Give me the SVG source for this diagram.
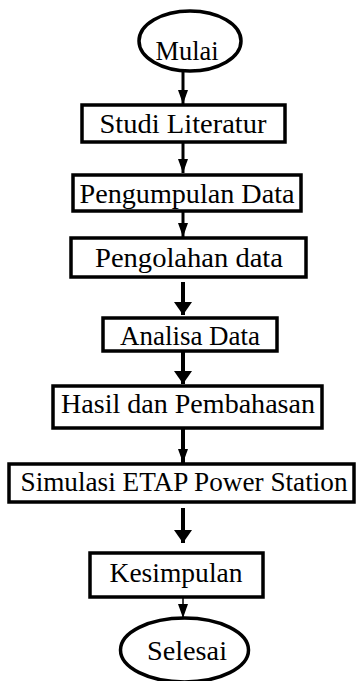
<svg xmlns="http://www.w3.org/2000/svg" width="357" height="681" viewBox="0 0 357 681">
<style>
.box{fill:#fff;stroke:#000;stroke-width:3.5}
.term{fill:#fff;stroke:#000;stroke-width:3.5}
.t{font-family:"Liberation Serif","Times New Roman",serif;font-size:28px;fill:#000;text-anchor:middle}
.c{stroke:#000;stroke-width:3;fill:none}
.ct{stroke:#000;stroke-width:4;fill:none}
.c1{stroke:#000;stroke-width:1.5;fill:none}
</style>
<defs>
<marker id="a" markerUnits="userSpaceOnUse" markerWidth="14" markerHeight="10" refX="14" refY="5" orient="auto"><path d="M0,0 L14,5 L0,10 Z" fill="#000"/></marker>
<marker id="b" markerUnits="userSpaceOnUse" markerWidth="13" markerHeight="18" refX="13" refY="9" orient="auto"><path d="M0,0 L13,9 L0,18 Z" fill="#000"/></marker>
</defs>
<rect width="357" height="681" fill="#fff"/>
<g id="connectors">
<line class="c" x1="183" y1="72" x2="183" y2="104" marker-end="url(#a)"/>
<line class="c" x1="183" y1="143" x2="183" y2="173" marker-end="url(#a)"/>
<line class="c" x1="183" y1="212" x2="183" y2="237" marker-end="url(#a)"/>
<line class="ct" x1="183" y1="282" x2="183" y2="315" marker-end="url(#b)"/>
<line class="ct" x1="183" y1="352" x2="183" y2="384" marker-end="url(#b)"/>
<line class="ct" x1="183" y1="429" x2="183" y2="463" marker-end="url(#a)"/>
<line class="ct" x1="183" y1="508" x2="183" y2="543" marker-end="url(#b)"/>
<line class="c1" x1="183" y1="586" x2="183" y2="618" marker-end="url(#a)"/>
</g>
<g id="mulai">
<ellipse class="term" cx="190" cy="41" rx="51" ry="30"/>
<text class="t" x="187" y="60" textLength="63" lengthAdjust="spacingAndGlyphs">Mulai</text>
</g>
<g id="studi">
<rect class="box" x="82" y="105" width="203" height="37"/>
<text class="t" x="183" y="133" textLength="167" lengthAdjust="spacingAndGlyphs">Studi Literatur</text>
</g>
<g id="pengumpulan">
<rect class="box" x="73" y="175" width="228" height="36"/>
<text class="t" x="187" y="203" textLength="215" lengthAdjust="spacingAndGlyphs">Pengumpulan Data</text>
</g>
<g id="pengolahan">
<rect class="box" x="71" y="238" width="235" height="39"/>
<text class="t" x="189" y="267" textLength="188" lengthAdjust="spacingAndGlyphs">Pengolahan data</text>
</g>
<g id="analisa">
<rect class="box" x="103" y="318" width="174" height="33"/>
<text class="t" x="190" y="345" textLength="140" lengthAdjust="spacingAndGlyphs">Analisa Data</text>
</g>
<g id="hasil">
<rect class="box" x="53" y="386" width="269" height="42"/>
<text class="t" x="188" y="413" textLength="254" lengthAdjust="spacingAndGlyphs">Hasil dan Pembahasan</text>
</g>
<g id="simulasi">
<rect class="box" x="9" y="464" width="345" height="38"/>
<text class="t" x="184" y="491" textLength="327" lengthAdjust="spacingAndGlyphs">Simulasi ETAP Power Station</text>
</g>
<g id="kesimpulan">
<rect class="box" x="90" y="553" width="173" height="44"/>
<text class="t" x="176" y="582" textLength="133" lengthAdjust="spacingAndGlyphs">Kesimpulan</text>
</g>
<g id="selesai">
<ellipse class="term" cx="184.5" cy="650" rx="64" ry="32"/>
<text class="t" x="187" y="660" textLength="80" lengthAdjust="spacingAndGlyphs">Selesai</text>
</g>
</svg>
